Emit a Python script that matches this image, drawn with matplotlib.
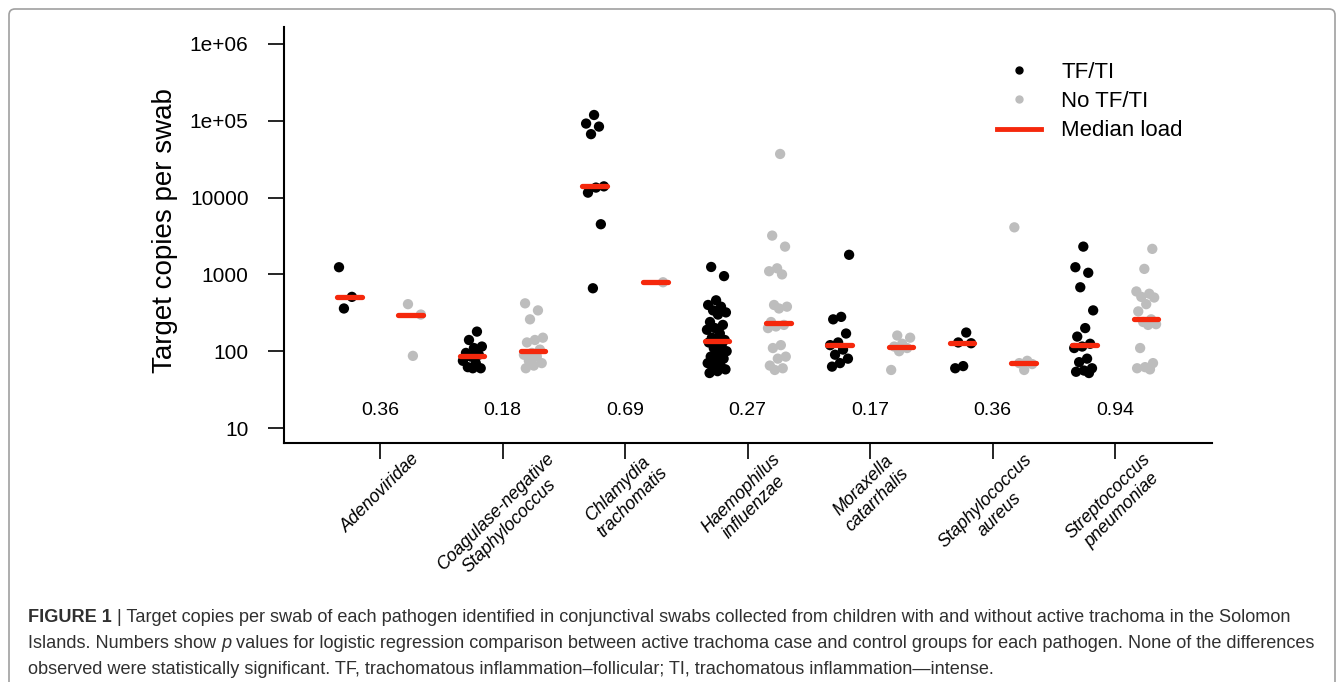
import numpy as np
import matplotlib as mpl
mpl.use('Agg')
import matplotlib.pyplot as plt
from matplotlib.lines import Line2D
from matplotlib.patches import FancyBboxPatch
from matplotlib.transforms import IdentityTransform

plt.rcParams['font.family'] = ['Liberation Sans', 'DejaVu Sans']

# pathogens (x tick labels) and p values
cats = ['Adenoviridae', 'Coagulase-negative\nStaphylococcus', 'Chlamydia\ntrachomatis',
        'Haemophilus\ninfluenzae', 'Moraxella\ncatarrhalis', 'Staphylococcus\naureus',
        'Streptococcus\npneumoniae']
pvals = ['0.36', '0.18', '0.69', '0.27', '0.17', '0.36', '0.94']

# target copies per swab, TF/TI group
tf_adeno = [1240, 510, 360]
tf_cons = [180, 140, 115, 110, 95, 90, 85, 75, 70, 62, 60, 60]
tf_chla = [119000, 92000, 84000, 67000, 14000, 13500, 11600, 4500, 660]
tf_haem = [1250, 950, 460, 400, 380, 340, 320, 300, 240, 220, 200, 190, 170, 150, 140,
           135, 130, 120, 110, 100, 95, 85, 80, 75, 70, 65, 60, 58, 55, 52]
tf_mora = [1800, 280, 260, 170, 130, 120, 105, 90, 80, 70, 63]
tf_saur = [175, 130, 127, 64, 60]
tf_spne = [2300, 1240, 1050, 680, 340, 200, 155, 125, 115, 110, 80, 72, 60, 56, 54, 52]

# target copies per swab, no TF/TI group
no_adeno = [410, 300, 87]
no_cons = [420, 340, 260, 150, 140, 130, 105, 95, 90, 85, 75, 70, 65, 60]
no_chla = [790]
no_haem = [37000, 3200, 2300, 1200, 1100, 1000, 400, 380, 360, 240, 220, 210, 200, 120,
           110, 85, 80, 65, 60, 57]
no_mora = [160, 150, 125, 115, 110, 100, 57]
no_saur = [4100, 75, 70, 68, 57]
no_spne = [2150, 1180, 600, 560, 510, 500, 410, 330, 260, 240, 225, 220, 110, 70, 62, 60, 58]

tf_groups = [tf_adeno, tf_cons, tf_chla, tf_haem, tf_mora, tf_saur, tf_spne]
no_groups = [no_adeno, no_cons, no_chla, no_haem, no_mora, no_saur, no_spne]

RED = '#f5280c'
GREY = '#bdbdbd'

fig = plt.figure(figsize=(13.44, 6.82), dpi=100)
ax = fig.add_axes([284 / 1344, 1 - 443 / 682, (1212 - 284) / 1344, (443 - 26.7) / 682])

def jitter(n, seed):
    # deterministic spread of points around the group centre
    return np.array([((k * 0.618034 + seed * 0.37) % 1 - 0.5) * 0.17 for k in range(n)])

for j, (tf, no) in enumerate(zip(tf_groups, no_groups)):
    xc = j + 1
    for vals, dx, col, s in [(tf, -0.25, 'black', 0), (no, 0.25, GREY, 1)]:
        vals = np.array(vals, dtype=float)
        ax.scatter(xc + dx + jitter(len(vals), j * 2 + s), vals, s=55, color=col,
                   edgecolors='none', zorder=2)
        med = np.median(vals)
        ax.plot([xc + dx - 0.1, xc + dx + 0.1], [med, med], color=RED, lw=3.8,
                solid_capstyle='round', zorder=3)
    ax.text(xc, 17, pvals[j], ha='center', va='center', fontsize=14)

ax.set_yscale('log')
ax.set_xlim(0.216, 7.79)
ax.set_ylim(10 ** 0.805, 10 ** 6.225)
ax.set_yticks([10, 100, 1000, 10000, 1e5, 1e6])
ax.set_yticklabels(['10', '100', '1000', '10000', '1e+05', '1e+06'])
ax.yaxis.set_minor_locator(mpl.ticker.NullLocator())
ax.set_xticks(range(1, 8))
ax.set_xticklabels(cats, rotation=45, ha='center', fontstyle='italic',
                   multialignment='center', fontsize=12.8)
ax.tick_params(axis='y', length=11.5, width=1.2, pad=14, labelsize=15)
ax.tick_params(axis='x', length=11.5, width=1.2, pad=-6)
for sp in ['top', 'right']:
    ax.spines[sp].set_visible(False)
for sp in ['left', 'bottom']:
    ax.spines[sp].set_linewidth(1.5)
ax.set_ylabel('Target copies per swab', fontsize=20)
ax.yaxis.set_label_coords(-0.114, 0.51)

handles = [Line2D([], [], marker='o', ls='none', color='black', markersize=5),
           Line2D([], [], marker='o', ls='none', color=GREY, markersize=5),
           Line2D([], [], color=RED, lw=3.5)]
fig.legend(handles, ['TF/TI', 'No TF/TI', 'Median load'], loc='upper left',
           bbox_to_anchor=(997 / 1344, 1 - 62 / 682), frameon=False, fontsize=16,
           handlelength=2.0, handletextpad=0.9, labelspacing=0.37, borderpad=0,
           borderaxespad=0)

# rounded frame around figure and caption
frame = FancyBboxPatch((9, -30), 1326, 682 - 9 + 30, boxstyle='round,pad=0,rounding_size=6',
                       transform=IdentityTransform(), facecolor='none',
                       edgecolor='#a0a0a0', lw=1.2)
fig.patches.append(frame)

renderer = fig.canvas.get_renderer()
CAP = '#303030'

def caption_line(y, runs, size=13.1):
    x = 28
    for txt, kw in runs:
        t = fig.text(x, y, txt, transform=IdentityTransform(), va='center', ha='left',
                     fontsize=size, color=CAP, **kw)
        x = t.get_window_extent(renderer).x1

caption_line(682 - 617, [('FIGURE 1', dict(fontweight='bold')),
                          (' | Target copies per swab of each pathogen identified in conjunctival '
                           'swabs collected from children with and without active trachoma in the Solomon', {})])
caption_line(682 - 644, [('Islands. Numbers show ', {}), ('p', dict(fontstyle='italic')),
                          (' values for logistic regression comparison between active trachoma case '
                           'and control groups for each pathogen. None of the differences', {})])
caption_line(682 - 670, [('observed were statistically significant. TF, trachomatous '
                          'inflammation\u2013follicular; TI, trachomatous inflammation\u2014intense.', {})])

fig.savefig('out.png', dpi=100)
